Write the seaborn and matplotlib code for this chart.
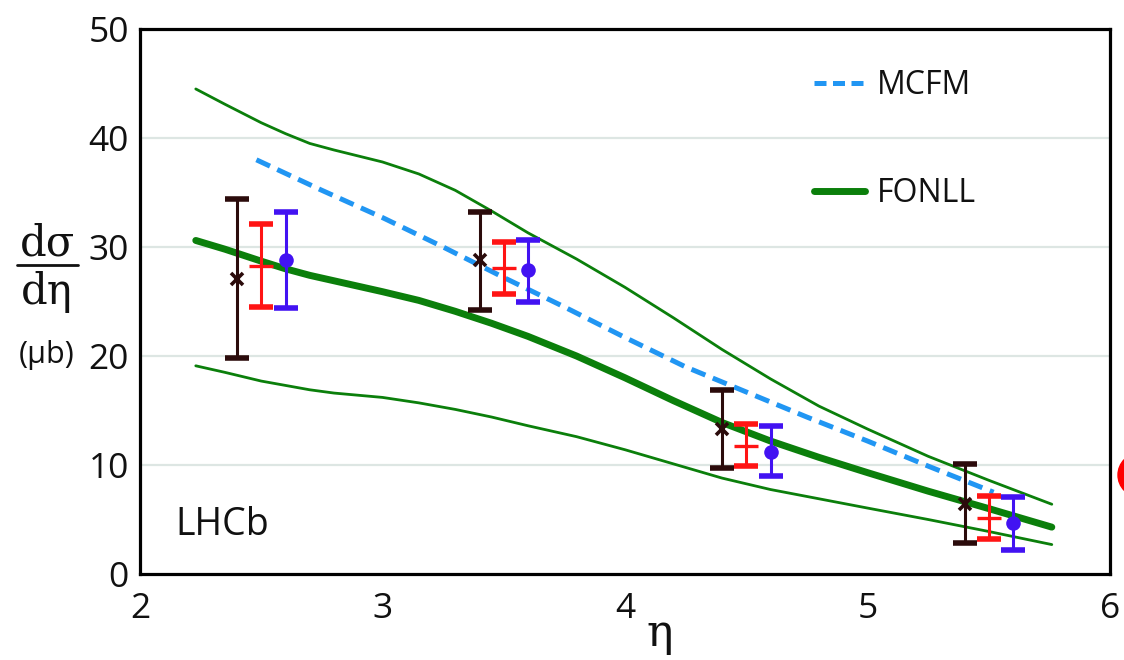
import numpy as np
import pandas as pd
import matplotlib
matplotlib.use("Agg")
import matplotlib.pyplot as plt
import seaborn as sns
from matplotlib.lines import Line2D
from matplotlib.patches import Ellipse

# ---------------- data ----------------
# FONLL theory band (central, upper, lower)
fonll_eta = [2.23, 2.35, 2.5, 2.6, 2.7, 2.8, 3.0, 3.15, 3.3, 3.45, 3.6, 3.8, 4.0, 4.2, 4.4,
             4.6, 4.8, 5.0, 5.25, 5.5, 5.76]
fonll_central = [30.6, 29.8, 28.7, 28.0, 27.4, 26.9, 25.9, 25.1, 24.1, 23.0, 21.8, 20.0, 18.0, 15.9,
                 13.9, 12.2, 10.7, 9.3, 7.6, 6.0, 4.3]
fonll_upper = [44.5, 43.1, 41.4, 40.4, 39.5, 38.9, 37.8, 36.7, 35.2, 33.3, 31.3, 28.9, 26.3, 23.5,
               20.6, 17.9, 15.4, 13.3, 10.8, 8.6, 6.4]
fonll_lower = [19.1, 18.5, 17.7, 17.3, 16.9, 16.6, 16.2, 15.7, 15.1, 14.4, 13.6, 12.6, 11.4, 10.1,
               8.8, 7.75, 6.9, 6.05, 5.0, 3.9, 2.7]

# MCFM prediction
mcfm_eta = [2.48, 2.75, 3.0, 3.25, 3.5, 3.75, 4.0, 4.25, 4.5, 4.75, 5.0, 5.25, 5.52]
mcfm_val = [38.0, 35.2, 32.7, 30.0, 27.2, 24.5, 21.7, 19.0, 16.7, 14.4, 12.2, 9.9, 7.5]

# measurements (three series, offset in eta)
black_eta = [2.4, 3.4, 4.4, 5.4]
black_val = [27.1, 28.8, 13.3, 6.4]
black_hi = [34.4, 33.2, 16.9, 10.1]
black_lo = [19.8, 24.2, 9.7, 2.8]

red_eta = [2.5, 3.5, 4.5, 5.5]
red_val = [28.3, 28.1, 11.7, 5.1]
red_hi = [32.1, 30.5, 13.8, 7.2]
red_lo = [24.5, 25.7, 9.9, 3.2]

blue_eta = [2.6, 3.6, 4.6, 5.6]
blue_val = [28.8, 27.9, 11.2, 4.7]
blue_hi = [33.2, 30.6, 13.6, 7.1]
blue_lo = [24.4, 25.0, 9.0, 2.2]

x_ticks = [2, 3, 4, 5, 6]
y_ticks = [0, 10, 20, 30, 40, 50]

# ---------------- style ----------------
sns.set_theme(style="white")
plt.rcParams['font.family'] = ['Open Sans', 'DejaVu Sans']

GREEN = '#0b7f0b'
MCFM_C = '#2196f3'
BLACK_C = '#2b0b0b'
RED_C = '#ff1414'
BLUE_C = '#4212f2'
TXT = '#111111'

fig = plt.figure(figsize=(11.24, 6.6), dpi=100)
ax = fig.add_axes([140 / 1124, 1 - 574 / 660, 970 / 1124, 545 / 660])

# grid lines
for yv in y_ticks[1:-1]:
    ax.axhline(yv, color='#dde6e3', lw=1.6, zorder=0)

df_f = pd.DataFrame({'eta': fonll_eta, 'c': fonll_central, 'u': fonll_upper, 'l': fonll_lower})
df_m = pd.DataFrame({'eta': mcfm_eta, 'v': mcfm_val})

sns.lineplot(data=df_f, x='eta', y='u', ax=ax, color=GREEN, lw=2.0, zorder=2)
sns.lineplot(data=df_f, x='eta', y='l', ax=ax, color=GREEN, lw=2.0, zorder=2)
sns.lineplot(data=df_f, x='eta', y='c', ax=ax, color=GREEN, lw=5.0, zorder=2)
sns.lineplot(data=df_m, x='eta', y='v', ax=ax, color=MCFM_C, lw=3.6,
             linestyle=(0, (3.0, 1.6)), zorder=3)
ax.lines[-1].set_dash_capstyle('butt')
for ln in ax.lines:
    ln.set_solid_joinstyle('round')


def ebar(xs, vals, hi, lo, color, marker, ms, mew):
    vals = np.array(vals)
    yerr = [vals - np.array(lo), np.array(hi) - vals]
    ax.errorbar(xs, vals, yerr=yerr, fmt='none', ecolor=color,
                elinewidth=2.2, capsize=8.5, capthick=4.0, zorder=5)
    if marker == 'o':
        ax.plot(xs, vals, linestyle='none', marker='o', markersize=ms,
                color=color, markeredgewidth=0, zorder=6)
    else:
        ax.plot(xs, vals, linestyle='none', marker=marker, markersize=ms,
                color=color, markeredgewidth=mew, zorder=6)


ebar(black_eta, black_val, black_hi, black_lo, BLACK_C, 'x', 9, 2.6)
ebar(red_eta, red_val, red_hi, red_lo, RED_C, '_', 17, 2.4)
ebar(blue_eta, blue_val, blue_hi, blue_lo, BLUE_C, 'o', 10.5, 0)

ax.set_xlim(2, 6)
ax.set_ylim(0, 50)
ax.set_xticks(x_ticks)
ax.set_yticks(y_ticks)
ax.set_xlabel('')
ax.set_ylabel('')
ax.tick_params(axis='x', direction='in', length=7, width=2, color='black',
               labelsize=25.5, pad=13, labelcolor=TXT)
ax.tick_params(axis='y', length=0, labelsize=25.5, pad=8, labelcolor=TXT)
for sp in ax.spines.values():
    sp.set_visible(True)
    sp.set_color('black')
    sp.set_linewidth(2.3)

# legend
handles = [Line2D([], [], color=MCFM_C, lw=3.6, linestyle=(0, (2.4, 1.3)), dash_capstyle='butt'),
           Line2D([], [], color=GREEN, lw=5.0)]
ax.legend(handles, ['MCFM', 'FONLL'], loc='upper left', bbox_to_anchor=(0.695, 0.926),
          frameon=False, fontsize=23, handlelength=1.6, handletextpad=0.37,
          labelspacing=2.35, borderpad=0, borderaxespad=0, labelcolor=TXT)

ax.text(0.036, 0.09, 'LHCb', transform=ax.transAxes, fontsize=27,
        ha='left', va='center', color=TXT)

# axis labels
fig.text(660 / 1124, 1 - 633 / 660, 'η', fontsize=32, family='DejaVu Serif',
         ha='center', va='center', color=TXT)
fig.text(47 / 1124, 1 - 244 / 660, 'dσ', fontsize=30, family='DejaVu Serif',
         ha='center', va='center', color=TXT)
fig.text(47 / 1124, 1 - 292 / 660, 'dη', fontsize=30, family='DejaVu Serif',
         ha='center', va='center', color=TXT)
fig.add_artist(Line2D([17 / 1124, 78 / 1124], [1 - 265 / 660, 1 - 265 / 660],
                      transform=fig.transFigure, color=TXT, lw=2.0))
fig.text(47 / 1124, 1 - 355 / 660, '(μb)', fontsize=22,
         ha='center', va='center', color=TXT)

# partial red circle at the right edge
fig.add_artist(Ellipse((1140 / 1124, 1 - 475 / 660), width=44 / 1124, height=44 / 660,
                       transform=fig.transFigure, color='#ff0000', clip_on=False))

fig.savefig('out.png', dpi=100)
